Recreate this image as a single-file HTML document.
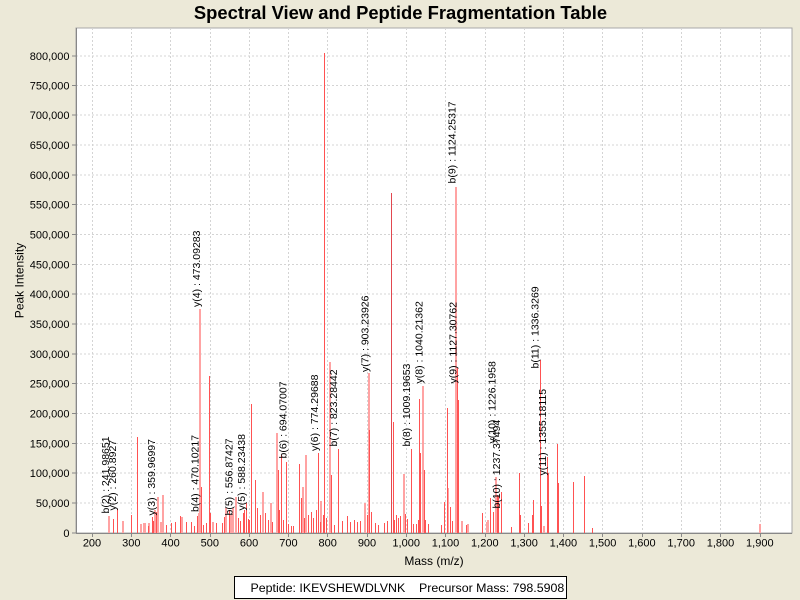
<!DOCTYPE html>
<html><head><meta charset="utf-8"><style>
html,body{margin:0;padding:0;background:#ece9d8;}
svg{display:block;font-family:"Liberation Sans",Arial,sans-serif;}
</style></head><body>
<svg width="800" height="600" viewBox="0 0 800 600" xmlns="http://www.w3.org/2000/svg">
<rect x="0" y="0" width="800" height="600" fill="#ece9d8"/>
<text x="400.5" y="19" text-anchor="middle" font-size="18.4" font-weight="bold" fill="#000">Spectral View and Peptide Fragmentation Table</text>
<rect x="76" y="28" width="716" height="505" fill="#fff" stroke="#a8a8a8" stroke-width="1"/>
<g stroke="#d4d4d4" stroke-width="1" stroke-dasharray="2,2" shape-rendering="crispEdges">
<path d="M92.5 28V533M131.5 28V533M170.5 28V533M210.5 28V533M249.5 28V533M288.5 28V533M327.5 28V533M367.5 28V533M406.5 28V533M445.5 28V533M485.5 28V533M524.5 28V533M563.5 28V533M602.5 28V533M642.5 28V533M681.5 28V533M720.5 28V533M760.5 28V533"/>
<path d="M76 503H792M76 473H792M76 443.5H792M76 413.5H792M76 383.5H792M76 354H792M76 324H792M76 294H792M76 264.5H792M76 234.5H792M76 204.5H792M76 175H792M76 145H792M76 115H792M76 85.5H792M76 56H792"/>
</g>
<g stroke="#ffa3a3" stroke-width="2" shape-rendering="crispEdges" fill="none">
<path d="M109 516V533M123 521V533M141 524V533M144 523V533M145 523V533M149 523V533M155 510V533M158 497V533M161 522V533M163 495V533M182 517V533M199 513V533M200 309V533M213 522V533M226 508V533M231 515V533M233 508V533M236 497V533M263 492V533M271 503V533M277 433V533M303 487V533M306 455V533M321 501V533M330 362V533M365 503V533M369 373V533M404 474V533M423 386V533M448 488V533M456 187V533M462 521V533M468 524V533M487 522V533M488 520V533M496 477V533M544 526V533M760 524V533"/>
</g>
<g stroke="#ff5252" stroke-width="1" shape-rendering="crispEdges" fill="none">
<path d="M113.5 519V533M117.5 509V533M131.5 515V533M137.5 437V533M148.5 526V533M152.5 517V533M153.5 521V533M156.5 512V533M166.5 525V533M171.5 523V533M175.5 522V533M180.5 516V533M186.5 522V533M191.5 522V533M194.5 526V533M197.5 516V533M201.5 487V533M203.5 525V533M206.5 523V533M209.5 376V533M210.5 513V533M216.5 523V533M222.5 523V533M224.5 517V533M229.5 510V533M238.5 518V533M240.5 521V533M243.5 513V533M244.5 510V533M246.5 503V533M248.5 519V533M249.5 520V533M251.5 404V533M255.5 480V533"/>
<path d="M257.5 508V533M260.5 515V533M265.5 513V533M268.5 520V533M272.5 522V533M278.5 470V533M279.5 510V533M281.5 455V533M283.5 520V533M286.5 462V533M288.5 524V533M291.5 526V533M293.5 526V533M299.5 464V533M301.5 498V533M304.5 518V533M308.5 515V533M311.5 512V533M313.5 518V533M316.5 510V533M318.5 453V533M320.5 522V533M323.5 515V533M324.5 53V533M326.5 518V533M331.5 475V533M334.5 525V533M338.5 449V533M342.5 521V533M347.5 516V533M350.5 522V533M354.5 520V533M357.5 522V533M360.5 521V533M367.5 515V533M369.5 430V533M371.5 512V533M375.5 523V533M378.5 525V533M384.5 523V533M387.5 521V533M393.5 422V533M394.5 520V533M396.5 515V533M398.5 518V533M400.5 516V533M405.5 514V533M407.5 519V533M411.5 449V533M413.5 524V533M416.5 524V533M418.5 520V533M419.5 399V533M420.5 453V533M424.5 470V533"/>
<path d="M425.5 520V533M428.5 524V533M441.5 525V533M444.5 502V533M447.5 408V533M450.5 507V533M452.5 521V533M457.5 368V533M458.5 400V533M466.5 525V533M482.5 513V533M490.5 498V533M493.5 512V533M497.5 495V533M498.5 496V533M501.5 492V533M511.5 527V533M519.5 473V533M520.5 515V533M528.5 523V533M532.5 515V533M533.5 500V533M540.5 360V533M541.5 506V533M547.5 457V533M548.5 473V533M557.5 444V533M558.5 483V533M573.5 482V533M584.5 476V533M592.5 528V533"/>
</g>
<path d="M391.5 193V533" stroke="#e2474f" stroke-width="1" shape-rendering="crispEdges"/>
<g font-size="10.5" fill="#000">
<text transform="translate(108.8,513.5) rotate(-90)">b(2) : 241.98651</text>
<text transform="translate(116.2,510.5) rotate(-90)">y(2) : 260.8927</text>
<text transform="translate(155.1,515.5) rotate(-90)">y(3) : 359.96997</text>
<text transform="translate(198.4,512) rotate(-90)">b(4) : 470.10217</text>
<text transform="translate(199.8,307) rotate(-90)">y(4) : 473.09283</text>
<text transform="translate(232.5,515.5) rotate(-90)">b(5) : 556.87427</text>
<text transform="translate(244.8,510.5) rotate(-90)">y(5) : 588.23438</text>
<text transform="translate(286.4,458.5) rotate(-90)">b(6) : 694.07007</text>
<text transform="translate(317.9,451) rotate(-90)">y(6) : 774.29688</text>
<text transform="translate(337.1,446.5) rotate(-90)">b(7) : 823.28442</text>
<text transform="translate(368.5,372) rotate(-90)">y(7) : 903.23926</text>
<text transform="translate(410.2,446.5) rotate(-90)">b(8) : 1009.19653</text>
<text transform="translate(422.3,383.5) rotate(-90)">y(8) : 1040.21362</text>
<text transform="translate(455.4,183.5) rotate(-90)">b(9) : 1124.25317</text>
<text transform="translate(456.6,383.5) rotate(-90)">y(9) : 1127.30762</text>
<text transform="translate(495.4,443.5) rotate(-90)">y(10) : 1226.1958</text>
<text transform="translate(499.8,508.5) rotate(-90)">b(10) : 1237.37494</text>
<text transform="translate(538.7,368.5) rotate(-90)">b(11) : 1336.3269</text>
<text transform="translate(546.1,475.5) rotate(-90)">y(11) : 1355.18115</text>
</g>
<g stroke="#888" stroke-width="1" shape-rendering="crispEdges">
<path d="M76.5 28V533.5M76 533.5H792"/>
<path d="M72 503H76M72 473H76M72 443.5H76M72 413.5H76M72 383.5H76M72 354H76M72 324H76M72 294H76M72 264.5H76M72 234.5H76M72 204.5H76M72 175H76M72 145H76M72 115H76M72 85.5H76M72 56H76M72 533H76"/>
<path d="M92.5 533V537M131.5 533V537M170.5 533V537M210.5 533V537M249.5 533V537M288.5 533V537M327.5 533V537M367.5 533V537M406.5 533V537M445.5 533V537M485.5 533V537M524.5 533V537M563.5 533V537M602.5 533V537M642.5 533V537M681.5 533V537M720.5 533V537M760.5 533V537"/>
</g>
<g font-size="11" fill="#000" text-anchor="end">
<text x="69.5" y="537">0</text>
<text x="69.5" y="507">50,000</text>
<text x="69.5" y="477">100,000</text>
<text x="69.5" y="447.5">150,000</text>
<text x="69.5" y="417.5">200,000</text>
<text x="69.5" y="387.5">250,000</text>
<text x="69.5" y="358">300,000</text>
<text x="69.5" y="328">350,000</text>
<text x="69.5" y="298">400,000</text>
<text x="69.5" y="268.5">450,000</text>
<text x="69.5" y="238.5">500,000</text>
<text x="69.5" y="208.5">550,000</text>
<text x="69.5" y="179">600,000</text>
<text x="69.5" y="149">650,000</text>
<text x="69.5" y="119">700,000</text>
<text x="69.5" y="89.5">750,000</text>
<text x="69.5" y="60">800,000</text>
</g>
<g font-size="11" fill="#000" text-anchor="middle">
<text x="92" y="546.5">200</text>
<text x="131.3" y="546.5">300</text>
<text x="170.6" y="546.5">400</text>
<text x="209.8" y="546.5">500</text>
<text x="249.1" y="546.5">600</text>
<text x="288.4" y="546.5">700</text>
<text x="327.7" y="546.5">800</text>
<text x="367" y="546.5">900</text>
<text x="406.2" y="546.5">1,000</text>
<text x="445.5" y="546.5">1,100</text>
<text x="484.8" y="546.5">1,200</text>
<text x="524.1" y="546.5">1,300</text>
<text x="563.4" y="546.5">1,400</text>
<text x="602.6" y="546.5">1,500</text>
<text x="641.9" y="546.5">1,600</text>
<text x="681.2" y="546.5">1,700</text>
<text x="720.5" y="546.5">1,800</text>
<text x="759.8" y="546.5">1,900</text>
</g>
<text x="434" y="565" text-anchor="middle" font-size="12" fill="#000">Mass (m/z)</text>
<text transform="translate(23.5,280.5) rotate(-90)" text-anchor="middle" font-size="12" fill="#000">Peak Intensity</text>
<rect x="234.5" y="576.5" width="332" height="22" fill="#fff" stroke="#000" stroke-width="1"/>
<text x="250.5" y="592" font-size="12.4" fill="#000">Peptide: IKEVSHEWDLVNK</text>
<text x="419" y="592" font-size="12.4" fill="#000">Precursor Mass: 798.5908</text>
</svg>
</body></html>
